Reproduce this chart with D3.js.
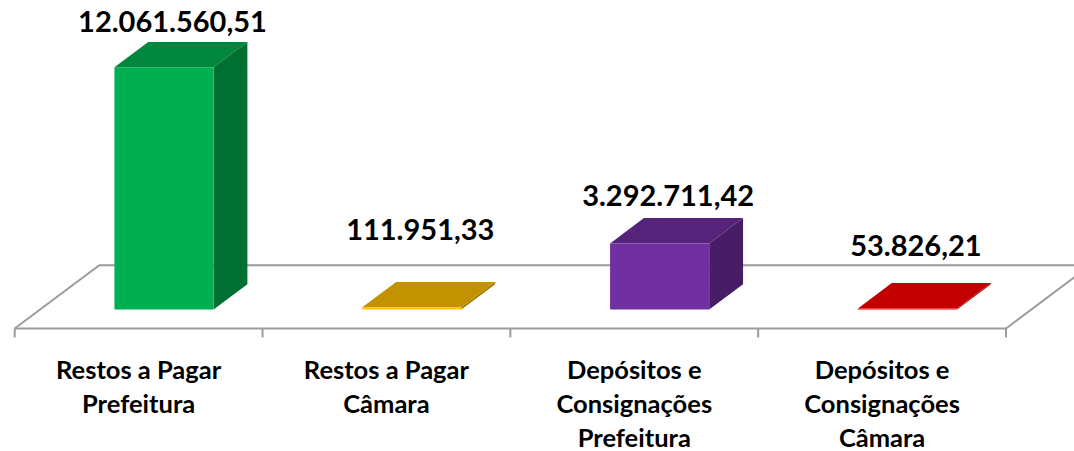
<!DOCTYPE html>
<html>
<head>
<meta charset="utf-8">
<script src="https://cdn.jsdelivr.net/npm/d3@7"></script>
<style>
  html, body { margin: 0; padding: 0; background: #fff; }
  svg { display: block; }
</style>
</head>
<body>
<div id="chart"></div>
<script>
// values
const categories = [
  "Restos a Pagar Prefeitura",
  "Restos a Pagar Câmara",
  "Depósitos e Consignações Prefeitura",
  "Depósitos e Consignações Câmara"
];
const categoryLines = [
  ["Restos a Pagar", "Prefeitura"],
  ["Restos a Pagar", "Câmara"],
  ["Depósitos e", "Consignações", "Prefeitura"],
  ["Depósitos e", "Consignações", "Câmara"]
];
const values = [12061560.51, 111951.33, 3292711.42, 53826.21];
const colors = ["#00B050", "#FFC000", "#7030A0", "#FF0000"];

const width = 1074;
const height = 451;

// floor geometry (oblique projection)
const floorLeft = 14.7;
const floorRight = 1006;
const floorY = 328.5;
const depth = { x: 84.6, y: -63.3 };
const barFront = 0.3;
const barBack = 0.7;

// label lift above the back top edge, as placed in the original
const labelLift = [10, 42, 12, 27];

const fmt = d3.formatLocale({ decimal: ",", thousands: ".", grouping: [3], currency: ["", ""] }).format(",.2f");

const x = d3.scaleBand().domain(categories).range([floorLeft, floorRight]).paddingInner(0).paddingOuter(0);
const xBar = d3.scaleBand().domain(categories).range([floorLeft, floorRight]).paddingInner(0.6).paddingOuter(0.3);
const h = d3.scaleLinear().domain([0, 12450000]).range([0, 250]);

const P = (px, t, hh) => [px + t * depth.x, floorY + t * depth.y - hh];

const svg = d3.select("#chart").append("svg")
  .attr("width", width)
  .attr("height", height);

const lineColor = "#9c9c9c";

// back part of the floor
const floor = svg.append("g")
  .attr("fill", "none")
  .attr("stroke", lineColor)
  .attr("stroke-width", 2);

floor.append("path")
  .attr("d", d3.line()([P(floorLeft, 0, 0), P(floorLeft, 1, 0), P(floorRight + 200, 1, 0)]));
floor.append("path")
  .attr("d", d3.line()([P(floorRight, 0, 0), P(floorRight, 1, 0)]));

// bars
const data = categories.map((c, i) => ({ c, v: values[i], color: colors[i], i }));

const bars = svg.append("g").selectAll("g").data(data).join("g");

bars.each(function (d) {
  const g = d3.select(this);
  const x0 = xBar(d.c);
  const x1 = x0 + xBar.bandwidth();
  const hh = h(d.v);
  const base = d3.rgb(d.color);
  const shade = (k) => d3.rgb(base.r * k, base.g * k, base.b * k).formatHex();

  g.append("path")
    .attr("fill", shade(0.63))
    .attr("d", d3.line()([P(x1, barFront, 0), P(x1, barBack, 0), P(x1, barBack, hh), P(x1, barFront, hh)]) + "Z");
  g.append("path")
    .attr("fill", shade(0.76))
    .attr("d", d3.line()([P(x0, barFront, hh), P(x1, barFront, hh), P(x1, barBack, hh), P(x0, barBack, hh)]) + "Z");
  g.append("path")
    .attr("fill", base.formatHex())
    .attr("d", d3.line()([P(x0, barFront, 0), P(x1, barFront, 0), P(x1, barFront, hh), P(x0, barFront, hh)]) + "Z");
});

// front edge and ticks
floor.append("path")
  .attr("d", d3.line()([P(floorLeft, 0, 0), P(floorRight, 0, 0)]));

const tickXs = categories.map((c) => x(c)).concat([floorRight]);
svg.append("g")
  .attr("stroke", lineColor)
  .attr("stroke-width", 2)
  .selectAll("line")
  .data(tickXs)
  .join("line")
  .attr("x1", (d) => d)
  .attr("x2", (d) => d)
  .attr("y1", floorY)
  .attr("y2", floorY + 9);

// value labels
svg.append("g")
  .selectAll("text")
  .data(data)
  .join("text")
  .attr("x", (d) => xBar(d.c) + xBar.bandwidth() / 2 + 0.4 * depth.x)
  .attr("y", (d) => P(0, barBack, h(d.v))[1] - labelLift[d.i])
  .attr("text-anchor", "middle")
  .attr("font-family", "Lato, 'Open Sans', sans-serif")
  .attr("font-weight", "bold")
  .attr("font-size", 29)
  .attr("fill", "#000")
  .text((d) => fmt(d.v));

// category labels
const cat = svg.append("g")
  .selectAll("text")
  .data(data)
  .join("text")
  .attr("text-anchor", "middle")
  .attr("font-family", "Lato, 'Open Sans', sans-serif")
  .attr("font-weight", "bold")
  .attr("font-size", 25.5)
  .attr("fill", "#000")
  .attr("transform", (d) => `translate(${x(d.c) + x.bandwidth() / 2},379)`);

cat.selectAll("tspan")
  .data((d) => categoryLines[d.i])
  .join("tspan")
  .attr("x", 0)
  .attr("y", (d, j) => j * 34)
  .text((d) => d);
</script>
</body>
</html>
